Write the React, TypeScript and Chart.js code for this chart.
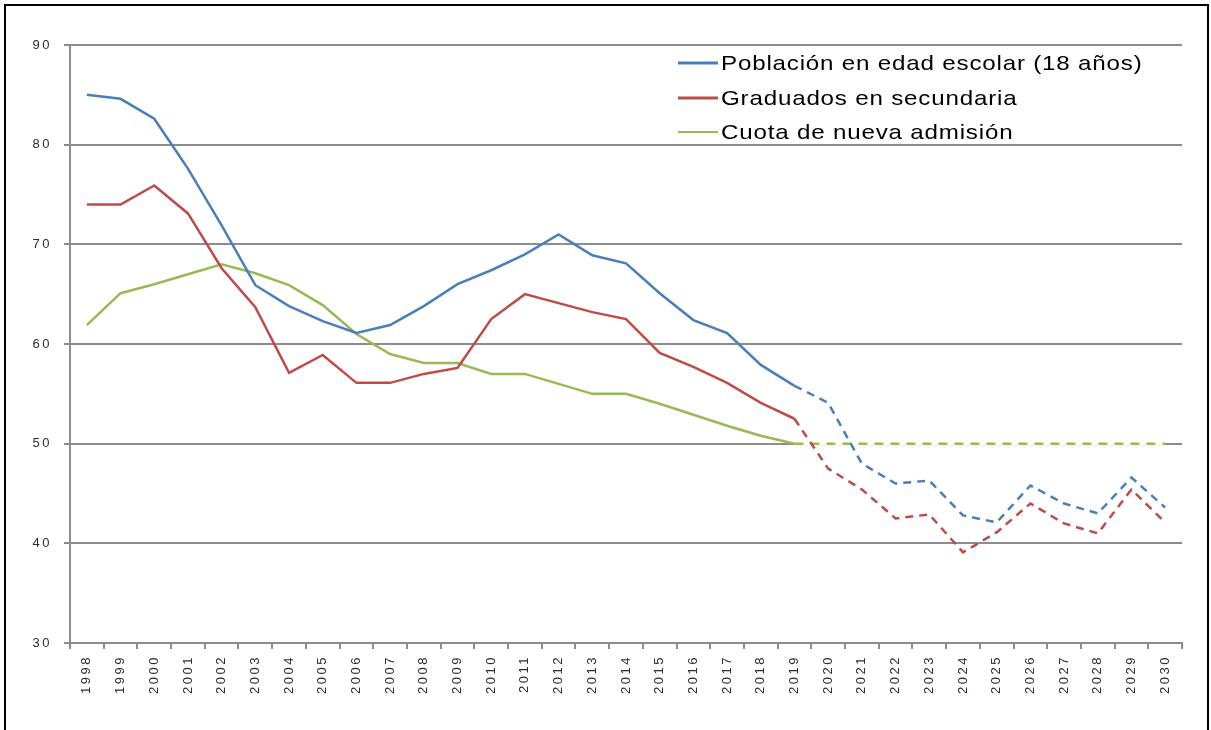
import React, { useEffect, useRef } from "react";
import { Chart, registerables } from "chart.js";

Chart.register(...registerables);

const years = ["1998","1999","2000","2001","2002","2003","2004","2005","2006","2007","2008","2009","2010","2011","2012","2013","2014","2015","2016","2017","2018","2019","2020","2021","2022","2023","2024","2025","2026","2027","2028","2029","2030"];

const poblacion = [85.0, 84.6, 82.6, 77.6, 71.9, 65.9, 63.8, 62.3, 61.1, 61.9, 63.8, 66.0, 67.4, 69.0, 71.0, 68.9, 68.1, 65.1, 62.4, 61.1, 57.9, 55.8, 54.1, 48.0, 46.0, 46.3, 42.8, 42.1, 45.8, 44.0, 43.0, 46.6, 43.6];
const graduados = [74.0, 74.0, 75.9, 73.1, 67.6, 63.7, 57.1, 58.9, 56.1, 56.1, 57.0, 57.6, 62.5, 65.0, 64.1, 63.2, 62.5, 59.1, 57.7, 56.1, 54.1, 52.5, 47.5, 45.4, 42.5, 42.9, 39.1, 41.1, 44.0, 42.0, 41.0, 45.4, 42.1];
const cuota = [61.9, 65.1, 66.0, 67.0, 68.0, 67.1, 65.9, 63.9, 61.0, 59.0, 58.1, 58.1, 57.0, 57.0, 56.0, 55.0, 55.0, 54.0, 52.9, 51.8, 50.8, 50.0, 50.0, 50.0, 50.0, 50.0, 50.0, 50.0, 50.0, 50.0, 50.0, 50.0, 50.0];

const seriesNames = ["Población en edad escolar (18 años)", "Graduados en secundaria", "Cuota de nueva admisión"];
const seriesColors = ["#4a7ebb", "#be4b48", "#98b954"];
const projectionStart = 21; // index of 2019

const FONT = "'Liberation Sans', Arial, sans-serif";

const textSpacingPlugin = {
  id: "textSpacing",
  beforeDraw(chart: any) {
    (chart.ctx as any).letterSpacing = "2.5px";
  },
};

// white underlay so the dashed quota projection shows white gaps (as in the original)
const underlayPlugin = {
  id: "underlay",
  beforeDatasetsDraw(chart: any) {
    const meta = chart.getDatasetMeta(2);
    const pts = meta.data;
    const ctx = chart.ctx;
    ctx.save();
    ctx.strokeStyle = "#ffffff";
    ctx.lineWidth = 3;
    ctx.setLineDash([]);
    ctx.beginPath();
    for (let i = projectionStart; i < pts.length; i++) {
      if (i === projectionStart) ctx.moveTo(pts[i].x, pts[i].y);
      else ctx.lineTo(pts[i].x, pts[i].y);
    }
    ctx.stroke();
    ctx.restore();
  },
};

const legendPlugin = {
  id: "customLegend",
  afterDraw(chart: any) {
    const ctx = chart.ctx;
    ctx.save();
    (ctx as any).letterSpacing = "0px";
    const x0 = 678;
    const lineW = 40;
    const ys = [63, 98, 132];
    seriesNames.forEach((name, i) => {
      ctx.strokeStyle = seriesColors[i];
      ctx.lineWidth = i === 2 ? 2 : 3;
      ctx.setLineDash([]);
      ctx.beginPath();
      ctx.moveTo(x0, ys[i]);
      ctx.lineTo(x0 + lineW, ys[i]);
      ctx.stroke();
      ctx.save();
      ctx.translate(x0 + lineW + 3, ys[i] + 1);
      ctx.scale(1.15, 1);
      ctx.font = `21px ${FONT}`;
      ctx.textBaseline = "middle";
      ctx.textAlign = "left";
      (ctx as any).letterSpacing = "0.7px";
      ctx.fillStyle = "#000";
      ctx.fillText(name, 0, 0);
      ctx.restore();
    });
    ctx.restore();
  },
};

export default function App() {
  const canvasRef = useRef<HTMLCanvasElement | null>(null);

  useEffect(() => {
    if (!canvasRef.current) return;
    const dashSeg = (dash: number[]) => (c: any) => (c.p0DataIndex >= projectionStart ? dash : undefined);
    const chart = new Chart(canvasRef.current, {
      type: "line",
      data: {
        labels: years,
        datasets: [
          {
            label: seriesNames[0],
            data: poblacion,
            borderColor: seriesColors[0],
            borderWidth: 2.5,
            pointRadius: 0,
            tension: 0,
            segment: { borderDash: dashSeg([8, 6]) },
          },
          {
            label: seriesNames[1],
            data: graduados,
            borderColor: seriesColors[1],
            borderWidth: 2.5,
            pointRadius: 0,
            tension: 0,
            segment: { borderDash: dashSeg([8, 6]) },
          },
          {
            label: seriesNames[2],
            data: cuota,
            borderColor: seriesColors[2],
            borderWidth: 2.5,
            pointRadius: 0,
            tension: 0,
            segment: { borderDash: dashSeg([9, 7]) },
          },
        ],
      },
      options: {
        animation: false,
        responsive: true,
        maintainAspectRatio: false,
        layout: { padding: { top: 45, right: 29, left: 0, bottom: 0 } },
        plugins: { legend: { display: false }, tooltip: { enabled: false } },
        scales: {
          x: {
            offset: true,
            grid: { drawOnChartArea: false, drawTicks: true, tickLength: 6, color: "#8c8c8c", lineWidth: 2, offset: true },
            border: { display: true, color: "#8c8c8c", width: 2 },
            ticks: {
              color: "#2a2a3a",
              font: { family: FONT, size: 13 },
              minRotation: 90,
              maxRotation: 90,
              autoSkip: false,
              padding: 6,
            },
            afterFit(scale: any) {
              scale.height = 87;
            },
          },
          y: {
            min: 30,
            max: 90,
            ticks: {
              stepSize: 10,
              color: "#2a2a3a",
              font: { family: FONT, size: 13 },
              padding: 12,
            },
            grid: { color: "#8c8c8c", lineWidth: 2, tickLength: 6 },
            border: { display: true, color: "#8c8c8c", width: 2 },
            afterFit(scale: any) {
              scale.width = 70;
            },
          },
        },
      },
      plugins: [textSpacingPlugin, underlayPlugin, legendPlugin],
    });
    return () => chart.destroy();
  }, []);

  return (
    <div style={{ position: "absolute", left: 0, top: 0, width: 1211, height: 730, background: "#fff", overflow: "hidden" }}>
      <div style={{ position: "absolute", left: 0, top: 0, width: 1211, height: 730 }}>
        <canvas ref={canvasRef} />
      </div>
      <div
        style={{
          position: "absolute",
          left: 4,
          top: 4,
          width: 1205,
          height: 760,
          border: "2px solid #000",
          boxSizing: "border-box",
          pointerEvents: "none",
        }}
      />
    </div>
  );
}
